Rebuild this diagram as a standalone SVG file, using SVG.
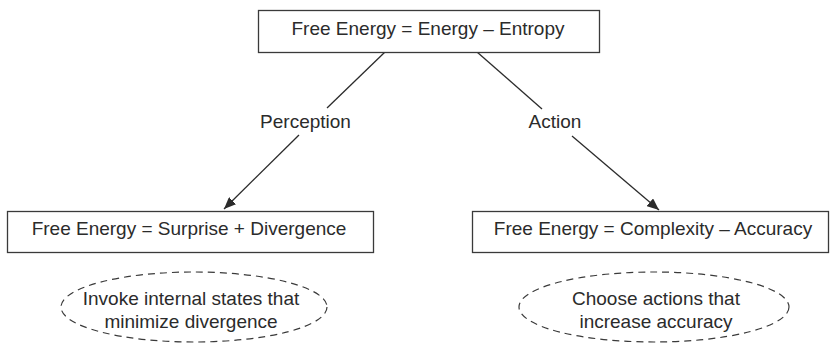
<svg xmlns="http://www.w3.org/2000/svg" width="831" height="347" viewBox="0 0 831 347">
  <style>
    .box { fill: #ffffff; stroke: #3a3a3a; stroke-width: 1.3; }
    .lbl { font-family: "Liberation Sans", Arial, sans-serif; font-size: 19px; fill: #2b2b2b; text-anchor: middle; }
    .edge { stroke: #2b2b2b; stroke-width: 1.3; fill: none; }
    .oval { fill: none; stroke: #3a3a3a; stroke-width: 1.2; stroke-dasharray: 7 5; }
  </style>
  <defs>
    <marker id="arrow" viewBox="0 0 12 10" refX="12" refY="5" markerWidth="12" markerHeight="10" markerUnits="userSpaceOnUse" orient="auto">
      <path d="M0,0 L12,5 L0,10 Z" fill="#2b2b2b"/>
    </marker>
  </defs>
  <rect width="831" height="347" fill="#ffffff"/>

  <g id="connectors">
    <line class="edge" x1="385" y1="52" x2="327" y2="108"/>
    <line class="edge" x1="299" y1="135" x2="224" y2="209" marker-end="url(#arrow)"/>
    <line class="edge" x1="477" y1="52" x2="542" y2="109"/>
    <line class="edge" x1="572" y1="136" x2="659" y2="210" marker-end="url(#arrow)"/>
    <text class="lbl" x="305.5" y="128">Perception</text>
    <text class="lbl" x="555" y="128">Action</text>
  </g>

  <g id="top">
    <rect class="box" x="258.5" y="10.5" width="341" height="42"/>
    <text class="lbl" x="428" y="35">Free Energy = Energy – Entropy</text>
  </g>

  <g id="perception-box">
    <rect class="box" x="7.5" y="211.5" width="366" height="41"/>
    <text class="lbl" x="189" y="235">Free Energy = Surprise + Divergence</text>
  </g>

  <g id="action-box">
    <rect class="box" x="472.5" y="211.5" width="356" height="41"/>
    <text class="lbl" x="653" y="235">Free Energy = Complexity – Accuracy</text>
  </g>

  <g id="perception-note">
    <ellipse class="oval" cx="194" cy="307" rx="133" ry="35"/>
    <text class="lbl" x="191" y="305">Invoke internal states that</text>
    <text class="lbl" x="191" y="328">minimize divergence</text>
  </g>

  <g id="action-note">
    <ellipse class="oval" cx="654" cy="307" rx="135" ry="35"/>
    <text class="lbl" x="656" y="305">Choose actions that</text>
    <text class="lbl" x="656" y="328">increase accuracy</text>
  </g>
</svg>
